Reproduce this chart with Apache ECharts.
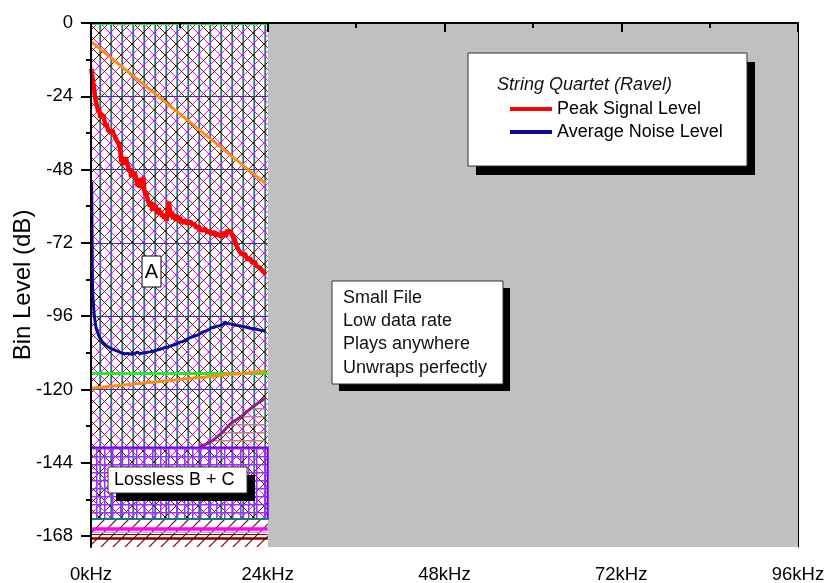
<!DOCTYPE html>
<html>
<head>
<meta charset="utf-8">
<script src="https://cdn.jsdelivr.net/npm/echarts@6/dist/echarts.min.js"></script>
<style>
  html, body { margin: 0; padding: 0; background: #ffffff; }
  #chart { width: 833px; height: 583px; }
</style>
</head>
<body>
<div id="chart"></div>
<script>
// ---- Axes -------------------------------------------------------------
const freqTicks = [0, 24, 48, 72, 96];                       // kHz
const levelTicks = [-168, -144, -120, -96, -72, -48, -24, 0]; // dB
const levelMinorTicks = [-156, -132, -108, -84, -60, -36, -12];
const levelFloor = -171.6;

// ---- Bands ------------------------------------------------------------
const audioBand = [0, 24];          // kHz covered by the recording
const ultrasonicBand = [24, 96];    // kHz above the recording band
const zoneA = [-162.4, 0];          // dB, lossy-coded region
const zoneBC = [-162.4, -139];      // dB, lossless B + C region
const zoneFloor = [levelFloor, -162.4];
const gridLevels = [-24, -48, -72, -96, -120];
const greenLevels = [0, -114.7];
const floorLevels = [-162.4, -165.7, -166.7, -167.5, -168.8];

// ---- Curves [kHz, dB] -------------------------------------------------
const upperSlope = [[0, -6.1], [23.7, -52.6]];
const lowerSlope = [[0, -119.6], [23.7, -114.0]];

const peakSignal = [
  [0.05, -15], [0.15, -17], [0.3, -19.5], [0.45, -22], [0.6, -25], [0.75, -26.5],
  [0.9, -27], [1.0, -29], [1.1, -28], [1.25, -31], [1.4, -29.5], [1.55, -31],
  [1.7, -30], [1.85, -32.5], [2.0, -34], [2.15, -33], [2.3, -35], [2.5, -34.5],
  [2.7, -36], [2.9, -35], [3.1, -36.5], [3.3, -37], [3.5, -38.5], [3.7, -38],
  [3.85, -40], [4.0, -42], [4.1, -45.5], [4.2, -43.5], [4.3, -46.5], [4.45, -44],
  [4.6, -46.5], [4.75, -44], [4.85, -45.5], [5.0, -46.5], [5.15, -48.5], [5.3, -47.5],
  [5.45, -50.5], [5.6, -48.5], [5.75, -50.5], [5.9, -48.8], [6.05, -50], [6.2, -52],
  [6.35, -53.5], [6.5, -50.8], [6.65, -54], [6.8, -51], [6.95, -52.5], [7.1, -50.5],
  [7.25, -55], [7.4, -56.5], [7.55, -55.5], [7.7, -58], [7.85, -57.5], [8.0, -60],
  [8.15, -58.5], [8.3, -61.5], [8.45, -59], [8.6, -60.5], [8.75, -59.5], [8.9, -61.5],
  [9.05, -62.5], [9.2, -60.5], [9.35, -62.8], [9.5, -61.5], [9.65, -63.5], [9.8, -62.5],
  [9.95, -64], [10.1, -62.8], [10.25, -64.8], [10.4, -62], [10.55, -58.5], [10.7, -61],
  [10.85, -63.5], [11.0, -61.8], [11.15, -64.2], [11.3, -62.5], [11.5, -64.8], [11.7, -63],
  [11.9, -64.6], [12.1, -63.5], [12.3, -65.6], [12.5, -64.3], [12.7, -65.8], [12.9, -64.5],
  [13.1, -66], [13.3, -65], [13.6, -65.3], [13.8, -66.2], [14.0, -65.5], [14.3, -67.2],
  [14.6, -66.5], [14.9, -67.8], [15.2, -67.9], [15.5, -67.3], [15.8, -68.7], [16.1, -68],
  [16.4, -69.2], [16.8, -68.4], [17.1, -69.7], [17.4, -69], [17.7, -70.2], [17.9, -69.4],
  [18.1, -68.5], [18.3, -70], [18.5, -67.8], [18.7, -68.6], [18.9, -67.9], [19.1, -69.2],
  [19.3, -70], [19.5, -70.8], [19.7, -72.6], [19.9, -73.2], [20.1, -74.6], [20.3, -74.2],
  [20.5, -75.8], [20.7, -76.2], [20.9, -75.6], [21.1, -76.8], [21.3, -77.6], [21.6, -77],
  [21.9, -78.6], [22.2, -78.1], [22.5, -79.6], [22.8, -80], [23.1, -80.6], [23.4, -81.5],
  [23.75, -82.3]
];

const averageNoise = [
  [0.1, -52], [0.12, -60], [0.15, -70], [0.18, -80], [0.22, -87], [0.3, -91],
  [0.45, -96], [0.7, -100], [1.1, -102.7], [1.5, -104.3], [2.0, -105.5], [2.6, -106.5],
  [3.4, -107.3], [4.0, -107.9], [4.5, -108.3], [5.0, -108.2], [5.5, -108.5], [6.0, -108.2],
  [6.3, -107.7], [6.6, -108.3], [7.0, -108.1], [7.5, -107.9], [8.0, -107.7], [8.5, -107.4],
  [9.0, -107.1], [9.5, -106.8], [10.0, -106.3], [10.5, -106.1], [11.0, -105.6], [11.5, -105.2],
  [12.0, -104.6], [12.5, -104.3], [13.0, -103.6], [13.5, -103], [14.0, -102.5], [14.5, -102.2],
  [15.0, -101.4], [15.5, -100.9], [16.0, -100.5], [16.3, -99.8], [16.7, -99.7], [17.0, -99.3],
  [17.5, -99.1], [18.0, -98.6], [18.2, -97.9], [18.5, -98.4], [19.0, -98.6], [19.5, -98.9],
  [20.0, -99.1], [20.5, -99.3], [21.0, -99.6], [21.5, -99.9], [22.0, -100.1], [22.5, -100.3],
  [23.0, -100.6], [23.7, -101]
];

const losslessEdge = [
  [14.7, -138.6], [15.5, -138.1], [16.3, -137.1], [17.0, -135.8], [17.7, -134.4],
  [18.4, -132.6], [19.0, -131.1], [19.7, -130.0], [20.4, -128.9], [21.0, -127.6],
  [21.7, -126.2], [22.6, -124.6], [23.6, -122.9]
];

// ---- Fill patterns ------------------------------------------------------
const font = 'Liberation Sans, Arial, Helvetica, sans-serif';

function tile(w, h, draw) {
  const c = document.createElement('canvas');
  c.width = w; c.height = h;
  draw(c.getContext('2d'), w, h);
  return { image: c, repeat: 'repeat' };
}

// Cross-hatch with teal verticals used for the coded region
const hatchA = tile(22, 22, (g) => {
  g.fillStyle = '#ffffff'; g.fillRect(0, 0, 22, 22);
  [0, 11].forEach((x) => {
    g.fillStyle = '#a8d6d6'; g.fillRect(x, 0, 2.5, 22);
    g.fillStyle = '#108080'; g.fillRect(x + 0.5, 0, 1.5, 22);
  });
  g.lineWidth = 1;
  const slash = (c, col) => { g.strokeStyle = col; g.beginPath(); g.moveTo(c + 3, -3); g.lineTo(c - 25, 25); g.stroke(); };
  const back = (c, col) => { g.strokeStyle = col; g.beginPath(); g.moveTo(c - 3, -3); g.lineTo(c + 25, 25); g.stroke(); };
  [11, 33].forEach((c) => slash(c, '#ff00ff'));
  [-11, 11].forEach((c) => back(c, '#ff00ff'));
  [0, 22, 44].forEach((c) => slash(c, '#800000'));
  [-22, 0, 22].forEach((c) => back(c, '#800000'));
});

// Violet square grid laid over the lossless region
const gridBC = tile(8, 8, (g) => {
  g.fillStyle = '#9a30ff';
  g.fillRect(0, 0, 8, 1.5);
  g.fillRect(0, 0, 1.5, 8);
});

// Horizontal stripes under the lossless edge curve
const stripes = tile(8, 8, (g) => {
  g.fillStyle = '#c48080';
  g.fillRect(0, 0, 8, 1.5);
});

// Single diagonal hatch for the floor band
const floorHatch = tile(12, 12, (g) => {
  g.fillStyle = '#ffffff'; g.fillRect(0, 0, 12, 12);
  g.strokeStyle = '#800000'; g.lineWidth = 1.2;
  [0, 12, 24].forEach((c) => { g.beginPath(); g.moveTo(c + 2, -2); g.lineTo(c - 14, 14); g.stroke(); });
});

const floorStyles = [
  { color: '#0b8080', width: 2 },
  { color: '#ff00ff', width: 3.5 },
  { color: '#a8a8e0', width: 1 },
  { color: '#800000', width: 1 },
  { color: '#800000', width: 2.5 }
];

function box(x0, x1, y0, y1) {
  return [{ coord: [x0, y0] }, { coord: [x1, y1] }];
}
function hline(x0, x1, y, style) {
  const a = { coord: [x0, y] };
  if (style) a.lineStyle = style;
  return [a, { coord: [x1, y] }];
}

const chart = echarts.init(document.getElementById('chart'), null, { renderer: 'canvas' });
const tickText = { fontFamily: font, fontSize: 18.5, color: '#000000' };
const bodyText = { fontFamily: font, fontSize: 18 };

const option = {
  animation: false,
  backgroundColor: '#ffffff',
  grid: { left: 91, right: 35, top: 23, bottom: 36, outerBoundsMode: 'none', containLabel: false },
  xAxis: [
    {
      type: 'value', min: freqTicks[0], max: freqTicks[freqTicks.length - 1], interval: 24, z: 20,
      axisLine: { lineStyle: { color: '#000', width: 2 } },
      axisTick: { length: 9, lineStyle: { color: '#000', width: 2 } },
      minorTick: { show: true, splitNumber: 2, length: 5, lineStyle: { color: '#000', width: 2 } },
      splitLine: { show: false }, minorSplitLine: { show: false },
      axisLabel: Object.assign({}, tickText, { margin: 18, formatter: (v) => v + 'kHz' })
    },
    {
      type: 'value', position: 'top', min: freqTicks[0], max: freqTicks[freqTicks.length - 1], z: 20,
      axisLine: { lineStyle: { color: '#000', width: 1 } },
      axisTick: { show: false }, axisLabel: { show: false }, splitLine: { show: false }
    }
  ],
  yAxis: [
    {
      type: 'value', min: levelFloor, max: 0, z: 20,
      axisLine: { show: true, lineStyle: { color: '#000', width: 2 } },
      axisTick: { show: true, customValues: levelTicks, length: 10, lineStyle: { color: '#000', width: 2 } },
      axisLabel: Object.assign({}, tickText, { margin: 18, customValues: levelTicks }),
      splitLine: { show: false },
      name: 'Bin Level (dB)', nameLocation: 'middle', nameGap: 56, nameMoveOverlap: false,
      nameTextStyle: { fontFamily: font, fontSize: 24, color: '#000' }
    },
    {
      type: 'value', position: 'left', min: levelFloor, max: 0, z: 20,
      axisLine: { show: false },
      axisTick: { show: true, customValues: levelMinorTicks, length: 5, lineStyle: { color: '#000', width: 2 } },
      axisLabel: { show: false }, splitLine: { show: false }
    },
    {
      type: 'value', position: 'right', min: levelFloor, max: 0, z: 20,
      axisLine: { show: true, lineStyle: { color: '#000', width: 1 } },
      axisTick: { show: false }, axisLabel: { show: false }, splitLine: { show: false }
    }
  ],
  legend: {
    data: ['Peak Signal Level', 'Average Noise Level'],
    orient: 'vertical', left: 510, top: 99, z: 40,
    icon: 'rect', itemWidth: 42, itemHeight: 4, itemGap: 3, padding: 0,
    textStyle: Object.assign({}, bodyText, { color: '#000', lineHeight: 20 })
  },
  series: [
    {
      type: 'line', data: [], z: 1, silent: true,
      markArea: { silent: true, itemStyle: { color: '#c0c0c0' },
        data: [box(ultrasonicBand[0], ultrasonicBand[1], levelFloor, 0)] }
    },
    {
      type: 'line', data: [], z: 2, silent: true,
      markArea: { silent: true, itemStyle: { color: hatchA },
        data: [box(audioBand[0], audioBand[1], zoneA[0], zoneA[1])] }
    },
    {
      type: 'line', data: [], z: 3, silent: true,
      markArea: { silent: true, itemStyle: { color: gridBC, borderColor: '#7f00ee', borderWidth: 2 },
        data: [box(audioBand[0], audioBand[1], zoneBC[0], zoneBC[1])] }
    },
    {
      type: 'line', data: [], z: 3, silent: true,
      markArea: { silent: true, itemStyle: { color: floorHatch },
        data: [box(audioBand[0], audioBand[1], zoneFloor[0], zoneFloor[1])] },
      markLine: { silent: true, symbol: 'none', label: { show: false },
        lineStyle: { type: 'solid' },
        data: floorLevels.map((v, i) => hline(audioBand[0], audioBand[1], v,
          { color: floorStyles[i].color, width: floorStyles[i].width, type: 'solid' })) }
    },
    {
      type: 'line', data: [], z: 4, silent: true,
      markLine: { silent: true, symbol: 'none', label: { show: false },
        lineStyle: { color: '#34349a', width: 1, type: 'solid' },
        data: gridLevels.map((v) => hline(audioBand[0], audioBand[1], v)) }
    },
    {
      type: 'line', data: [], z: 5, silent: true,
      markLine: { silent: true, symbol: 'none', label: { show: false },
        lineStyle: { color: '#22ee22', width: 3, type: 'solid' },
        data: greenLevels.map((v) => hline(audioBand[0], audioBand[1], v)) }
    },
    {
      type: 'line', data: upperSlope, z: 5, silent: true, symbol: 'none',
      lineStyle: { color: '#ff8c10', width: 3 }
    },
    {
      type: 'line', data: lowerSlope, z: 5, silent: true, symbol: 'none',
      lineStyle: { color: '#ff8c10', width: 3 }
    },
    {
      type: 'line', data: losslessEdge, z: 6, silent: true, symbol: 'none',
      lineStyle: { color: '#8e1e8e', width: 3 },
      areaStyle: { color: stripes, origin: zoneBC[1], opacity: 1 }
    },
    {
      name: 'Average Noise Level', type: 'line', data: averageNoise, z: 7, symbol: 'none',
      color: '#0a0a9c', lineStyle: { color: '#0a0a9c', width: 3 }
    },
    {
      name: 'Peak Signal Level', type: 'line', data: peakSignal, z: 8, symbol: 'none',
      color: '#ff0000', lineStyle: { color: '#ff0000', width: 4.5 }
    }
  ],
  graphic: [
    // legend panel
    { type: 'rect', z: 30, shape: { x: 476, y: 62, width: 279, height: 113 }, style: { fill: '#000' } },
    { type: 'rect', z: 31, shape: { x: 468, y: 53, width: 279, height: 113 },
      style: { fill: '#fff', stroke: '#333', lineWidth: 1 } },
    { type: 'text', z: 32, x: 497, y: 85,
      style: { text: 'String Quartet (Ravel)', fontFamily: font, fontSize: 18, fontStyle: 'italic',
        fill: '#111', verticalAlign: 'middle' } },
    // feature note
    { type: 'rect', z: 30, shape: { x: 339, y: 288, width: 171, height: 103 }, style: { fill: '#000' } },
    { type: 'rect', z: 31, shape: { x: 332, y: 281, width: 171, height: 103 },
      style: { fill: '#fff', stroke: '#333', lineWidth: 1 } },
    { type: 'text', z: 32, x: 343, y: 286,
      style: { text: 'Small File\nLow data rate\nPlays anywhere\nUnwraps perfectly',
        fontFamily: font, fontSize: 18, lineHeight: 23.4, fill: '#111', verticalAlign: 'top' } },
    // region labels
    { type: 'rect', z: 31, shape: { x: 142, y: 256, width: 19, height: 31 },
      style: { fill: '#fff', stroke: '#000', lineWidth: 1 } },
    { type: 'text', z: 32, x: 151.5, y: 272,
      style: { text: 'A', fontFamily: font, fontSize: 20, fill: '#000', align: 'center', verticalAlign: 'middle' } },
    { type: 'rect', z: 30, shape: { x: 116, y: 475, width: 139, height: 26 }, style: { fill: '#000' } },
    { type: 'rect', z: 31, shape: { x: 108, y: 467, width: 139, height: 26 },
      style: { fill: '#fff', stroke: '#333', lineWidth: 1 } },
    { type: 'text', z: 32, x: 114, y: 480,
      style: { text: 'Lossless B + C', fontFamily: font, fontSize: 18, fill: '#000', verticalAlign: 'middle' } }
  ]
};

chart.setOption(option);
</script>
</body>
</html>
